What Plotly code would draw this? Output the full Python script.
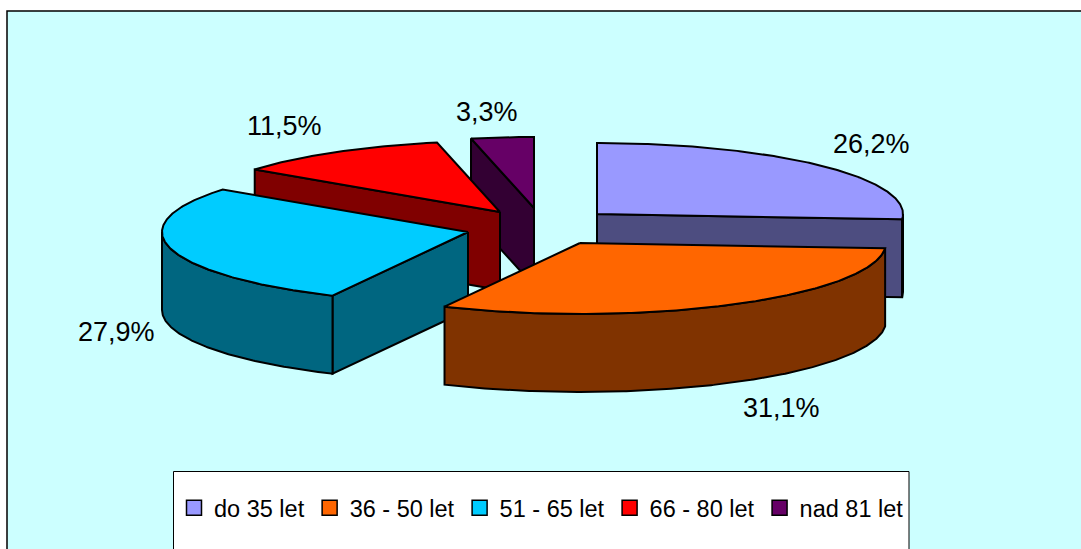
import numpy as np
import plotly.graph_objects as go

categories = ['do 35 let', '36 - 50 let', '51 - 65 let', '66 - 80 let', 'nad 81 let']
shares = [26.2, 31.1, 27.9, 11.5, 3.3]
share_labels = ['26,2%', '31,1%', '27,9%', '11,5%', '3,3%']

top_colors = ['#9999FF', '#FF6600', '#00CCFF', '#FF0000', '#660066']
wall_colors = ['#4D4D80', '#803300', '#006680', '#800000', '#330033']

# pie geometry, pixels
RX, RY, DEPTH = 306, 71, 78
apex_x = [597, 580, 468, 500, 534]
apex_y = [214, 243, 232, 212, 208]
label_x = [871, 781, 116, 284, 487]
label_y = [144, 408, 332, 126, 112]
draw_order = [4, 3, 2, 0, 1]

FONT = 'Liberation Sans'
LINE = dict(color='black', width=2)


def rim(cx, cy, a0, a1):
    # a0, a1 in degrees clockwise from 12 o'clock
    t = np.radians(np.linspace(a0, a1, max(int(abs(a1 - a0)) * 2, 2)))
    return cx + RX * np.sin(t), cy - RY * np.cos(t)


def face(fig, xs, ys, color):
    fig.add_trace(go.Scatter(x=xs, y=ys, mode='lines', fill='toself', fillcolor=color,
                             line=LINE, showlegend=False, hoverinfo='skip'))


def radial_wall(fig, cx, cy, a, color):
    ex, ey = rim(cx, cy, a, a)
    ex, ey = ex[0], ey[0]
    face(fig, [cx, ex, ex, cx, cx], [cy, ey, ey + DEPTH, cy + DEPTH, cy], color)


fig = go.Figure()

edges = np.concatenate([[0], np.cumsum(shares)]) / sum(shares) * 360
for i in draw_order:
    cx, cy, a0, a1 = apex_x[i], apex_y[i], edges[i], edges[i + 1]
    # only walls turned towards the viewer
    if np.sin(np.radians(a0)) < -1e-6:
        radial_wall(fig, cx, cy, a0, wall_colors[i])
    if np.sin(np.radians(a1)) > 1e-6:
        radial_wall(fig, cx, cy, a1, wall_colors[i])
    f0, f1 = max(a0, 90), min(a1, 270)
    if f1 > f0:
        rx, ry = rim(cx, cy, f0, f1)
        face(fig, np.r_[rx, rx[::-1], rx[0]], np.r_[ry, ry[::-1] + DEPTH, ry[0]], wall_colors[i])
    tx, ty = rim(cx, cy, a0, a1)
    face(fig, np.r_[cx, tx, cx], np.r_[cy, ty, cy], top_colors[i])

# legend entries only
for name, color in zip(categories, top_colors):
    fig.add_trace(go.Scatter(x=[None], y=[None], mode='markers', name=name,
                             marker=dict(symbol='square', size=15, color=color,
                                         line=dict(color='black', width=1.5))))

for text, x, y in zip(share_labels, label_x, label_y):
    fig.add_annotation(x=x, y=y, text=text, showarrow=False, xanchor='center', yanchor='middle',
                       font=dict(family=FONT, size=27, color='black'))

fig.update_layout(
    width=1081, height=549,
    margin=dict(l=0, r=0, t=0, b=0),
    paper_bgcolor='white', plot_bgcolor='white',
    xaxis=dict(range=[0, 1081], visible=False, fixedrange=True),
    yaxis=dict(range=[549, 0], visible=False, fixedrange=True),
    legend=dict(orientation='h', x=174 / 1081, y=1 - 508 / 549, xanchor='left', yanchor='middle',
                bgcolor='rgba(0,0,0,0)', font=dict(family=FONT, size=23.5, color='black'),
                itemwidth=30),
    shapes=[
        dict(type='rect', xref='x', yref='y', x0=7, y0=11, x1=1100, y1=570, layer='below',
             fillcolor='#CCFFFF', line=dict(color='black', width=1.5)),
        dict(type='rect', xref='x', yref='y', x0=173.5, y0=471.5, x1=909, y1=570, layer='below',
             fillcolor='white', line=dict(color='black', width=1)),
    ],
)

# page has a default body margin, drop it so pixels line up
fig.write_html('out.html', config={'displayModeBar': False},
               post_script="document.body.style.margin='0';")
